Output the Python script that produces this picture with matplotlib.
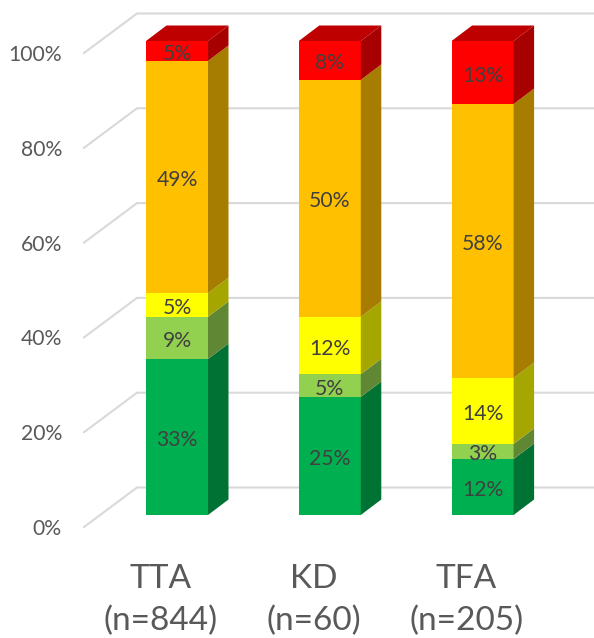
import matplotlib
matplotlib.use('Agg')
import matplotlib.pyplot as plt
from matplotlib.colors import to_rgb
import numpy as np

plt.rcParams['font.family'] = ['Lato', 'DejaVu Sans']

categories = ['TTA\n(n=844)', 'KD\n(n=60)', 'TFA\n(n=205)']
ticks = [0, 20, 40, 60, 80, 100]

# bottom to top
green = [32.9, 24.9, 11.8]
light_green = [8.9, 4.8, 3.2]
yellow = [5.0, 12.1, 13.9]
orange = [49.0, 50.0, 57.8]
red = [4.2, 8.2, 13.3]

green_lab = ['33%', '25%', '12%']
light_green_lab = ['9%', '5%', '3%']
yellow_lab = ['5%', '12%', '14%']
orange_lab = ['49%', '50%', '58%']
red_lab = ['5%', '8%', '13%']

series = [green, light_green, yellow, orange, red]
labels = [green_lab, light_green_lab, yellow_lab, orange_lab, red_lab]
colors = ['#00B050', '#92D050', '#FFFF00', '#FFC000', '#FF0000']

W, H = 594, 638
px_x = 152.8   # pixels per category
px_y = 4.74    # pixels per percent
x0, y0 = 177, 515  # pixel of first bar centre, bar base

bar_w = 62 / px_x
dx, dy = 20.5 / px_x, 15.5 / px_y  # bar depth
wall_dx, wall_dy = 53 / px_x, 39.5 / px_y  # wall depth
floor = -12 / px_y
wall_left = (84 - x0) / px_x
text_drop = 3 / px_y  # text sits a little low in the original


def shade(c, f):
    return tuple(v * f for v in to_rgb(c))


fig = plt.figure(figsize=(W / 100, H / 100), dpi=100)
ax = fig.add_axes([0, 0, 1, 1])
ax.set_xlim(-x0 / px_x, (W - x0) / px_x)
ax.set_ylim((y0 - H) / px_y, y0 / px_y)
ax.axis('off')

# gridlines on floor/wall
for t in ticks:
    ax.plot([wall_left, wall_left + wall_dx, ax.get_xlim()[1]],
            [t + floor, t + floor + wall_dy, t + floor + wall_dy],
            color='#d9d9d9', lw=1.5, zorder=1, solid_joinstyle='miter')
    ax.text(-115 / px_x, t + floor - text_drop + 1 / px_y, '%d%%' % t, ha='right', va='center',
            fontsize=15.2, color='#595959')

# bars
xs = np.arange(len(categories))
bottom = np.zeros(len(categories))
for vals, labs, c in zip(series, labels, colors):
    for x, b, v, lab in zip(xs, bottom, vals, labs):
        l, r = x - bar_w / 2, x + bar_w / 2
        ax.fill([l, r, r, l], [b, b, b + v, b + v], color=c, lw=0, zorder=3)
        ax.fill([r, r + dx, r + dx, r], [b, b + dy, b + v + dy, b + v],
                color=shade(c, 0.65), lw=0, zorder=3)
        ax.text(x, b + v / 2 - text_drop, lab, ha='center', va='center', fontsize=15.2,
                color='#404040', zorder=5)
    bottom = bottom + np.array(vals)

# top face of the stack
for x, b in zip(xs, bottom):
    l, r = x - bar_w / 2, x + bar_w / 2
    ax.fill([l, r, r + dx, l + dx], [b, b, b + dy, b + dy],
            color=shade(colors[-1], 0.75), lw=0, zorder=3)

# category labels sit left of the bar centres
for x, cat in zip(xs, categories):
    ax.text(x - 16 / px_x, (y0 - 600) / px_y, cat, ha='center', va='center',
            fontsize=24, color='#595959', linespacing=1.47)

fig.savefig('out.png', dpi=100)
